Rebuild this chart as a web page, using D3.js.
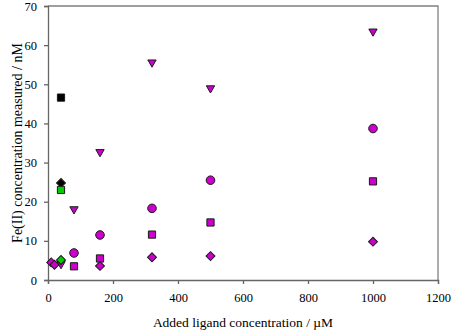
<!DOCTYPE html>
<html lang="en">
<head>
  <meta charset="UTF-8">
  <title>Fe(II) vs ligand</title>
  <script src='https://d3js.org/d3.v7.min.js'></script>
  <style>
    body { margin: 0; background: #fff; }
    text { font-family: 'Liberation Serif', 'Times New Roman', serif; fill: #000; }
  </style>
</head>
<body>
</body>
<script>
  const width = 454, height = 333;
  const margin = {top: 6, right: 16, bottom: 53, left: 48};

  // data
  const triangleX = [40, 80, 160, 320, 500, 1000];
  const triangleY = [4.1, 18.1, 32.7, 55.6, 49.0, 63.5];
  const circleX = [80, 160, 320, 500, 1000];
  const circleY = [6.9, 11.5, 18.3, 25.5, 38.7];
  const squareX = [80, 160, 320, 500, 1000];
  const squareY = [3.5, 5.5, 11.6, 14.7, 25.2];
  const diamondX = [10, 20, 160, 320, 500, 1000];
  const diamondY = [4.5, 3.9, 3.6, 5.8, 6.1, 9.8];
  const greenDiamondX = [40], greenDiamondY = [5.1];
  const greenSquareX = [40], greenSquareY = [23.0];
  const blackSquareX = [40], blackSquareY = [46.6];
  const blackDiamondX = [40], blackDiamondY = [24.8];
  const xTicks = [0, 200, 400, 600, 800, 1000, 1200];
  const yTicks = [0, 10, 20, 30, 40, 50, 60, 70];

  const purple = '#cc00cc', green = '#00cc00', black = '#000000';

  const svg = d3.select('body').append('svg').attr('width', width).attr('height', height);

  const x = d3.scaleLinear().domain([0, 1200]).range([margin.left, width - margin.right]);
  const y = d3.scaleLinear().domain([0, 70]).range([height - margin.bottom, margin.top]);

  // plot frame (top and right)
  svg.append('path')
    .attr('d', `M${x(0)},${y(70)}H${x(1200)}V${y(0)}`)
    .attr('fill', 'none').attr('stroke', '#808080').attr('stroke-width', 1.3);

  const xAxis = svg.append('g').attr('transform', `translate(0,${y(0)})`)
    .call(d3.axisBottom(x).tickValues(xTicks).tickFormat(d3.format('d')).tickSize(4).tickPadding(9));
  const yAxis = svg.append('g').attr('transform', `translate(${x(0)},0)`)
    .call(d3.axisLeft(y).tickValues(yTicks).tickSize(4).tickPadding(7));
  [xAxis, yAxis].forEach(function(a) {
    a.selectAll('path, line').attr('stroke', '#666').attr('stroke-width', 1.3);
    a.selectAll('text').style('font-family', "'Liberation Serif', serif").style('font-size', '12.5px').attr('fill', '#000');
  });

  svg.append('text')
    .attr('x', (x(0) + x(1200)) / 2).attr('y', 327)
    .attr('text-anchor', 'middle').style('font-size', '13.5px')
    .text('Added ligand concentration / µM');
  svg.append('text')
    .attr('transform', `translate(22,${(y(0) + y(70)) / 2}) rotate(-90)`)
    .attr('text-anchor', 'middle').style('font-size', '14px')
    .text('Fe(II) concentration measured / nM');

  const series = [
    {xs: triangleX, ys: triangleY, shape: d3.symbolTriangle, size: 30, rot: 180, fill: purple},
    {xs: circleX, ys: circleY, shape: d3.symbolCircle, size: 58, rot: 0, fill: purple},
    {xs: squareX, ys: squareY, shape: d3.symbolSquare, size: 52, rot: 0, fill: purple},
    {xs: diamondX, ys: diamondY, shape: d3.symbolSquare, size: 40, rot: 45, fill: purple},
    {xs: blackSquareX, ys: blackSquareY, shape: d3.symbolSquare, size: 52, rot: 0, fill: black},
    {xs: blackDiamondX, ys: blackDiamondY, shape: d3.symbolSquare, size: 40, rot: 45, fill: black},
    {xs: greenSquareX, ys: greenSquareY, shape: d3.symbolSquare, size: 52, rot: 0, fill: green},
    {xs: greenDiamondX, ys: greenDiamondY, shape: d3.symbolSquare, size: 40, rot: 45, fill: green}
  ];

  series.forEach(function(s) {
    const pts = s.xs.map((d, i) => [d, s.ys[i]]);
    svg.append('g').selectAll('path')
      .data(pts)
      .join('path')
      .attr('d', d3.symbol().type(s.shape).size(s.size))
      .attr('transform', d => `translate(${x(d[0])},${y(d[1])}) rotate(${s.rot})`)
      .attr('fill', s.fill)
      .attr('stroke', '#1a1a1a')
      .attr('stroke-width', 1);
  });
</script>
</html>
